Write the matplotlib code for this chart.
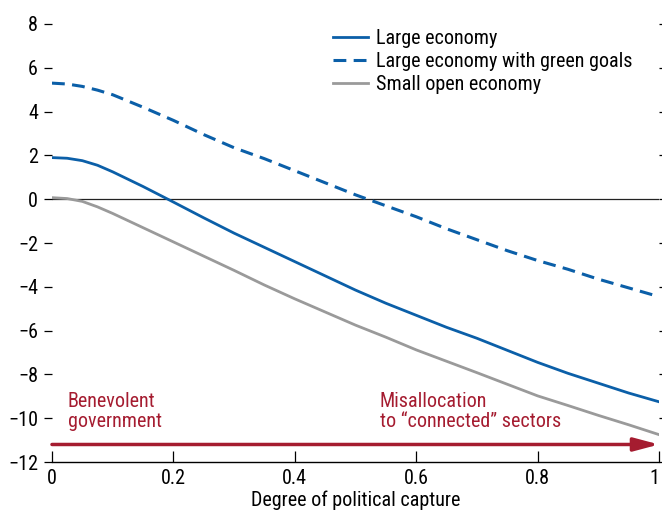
import matplotlib
matplotlib.use("Agg")
import matplotlib.pyplot as plt

plt.rcParams["font.family"] = ["Liberation Sans Narrow", "Roboto Condensed",
                               "Liberation Sans", "DejaVu Sans"]

# degree of political capture
capture = [0.0, 0.025, 0.05, 0.075, 0.1, 0.15, 0.2, 0.25, 0.3, 0.35, 0.4, 0.45, 0.5,
           0.55, 0.6, 0.65, 0.7, 0.75, 0.8, 0.85, 0.9, 0.95, 1.0]

large = [1.9, 1.87, 1.76, 1.55, 1.25, 0.58, -0.13, -0.85, -1.55, -2.2, -2.85, -3.5, -4.15,
         -4.75, -5.3, -5.85, -6.35, -6.9, -7.45, -7.95, -8.4, -8.85, -9.25]

large_green = [5.3, 5.26, 5.15, 4.98, 4.77, 4.2, 3.6, 2.95, 2.35, 1.85, 1.3, 0.75, 0.2,
               -0.3, -0.8, -1.35, -1.85, -2.35, -2.8, -3.2, -3.65, -4.05, -4.45]

small_open = [0.07, 0.03, -0.1, -0.35, -0.65, -1.3, -1.95, -2.6, -3.25, -3.92, -4.55, -5.15,
              -5.75, -6.3, -6.88, -7.4, -7.92, -8.45, -8.98, -9.42, -9.87, -10.3, -10.75]

xticks = [0, 0.2, 0.4, 0.6, 0.8, 1]
xtick_labels = ["0", "0.2", "0.4", "0.6", "0.8", "1"]
yticks = list(range(-12, 9, 2))

BLUE = "#0b5fa8"
GREY = "#9a9a9a"
RED = "#a51c30"
FS = 14.5

fig = plt.figure(figsize=(6.62, 5.15), dpi=100)
ax = fig.add_axes([0.0785, 0.1029, 0.917, 0.8505])

ax.axhline(0, color="#222222", lw=0.9, zorder=1)

ax.plot(capture, large, color=BLUE, lw=2.0, label="Large economy", zorder=3)
ax.plot(capture, large_green, color=BLUE, lw=2.2, ls=(0, (4.2, 2.4)),
        label="Large economy with green goals", zorder=3)
ax.plot(capture, small_open, color=GREY, lw=2.0, label="Small open economy", zorder=3)

# arrow along the bottom
ax.annotate("", xy=(1.0, -11.2), xytext=(0.0, -11.2),
            arrowprops=dict(arrowstyle="-|>,head_length=1.5,head_width=0.4",
                            color=RED, lw=2.5, shrinkA=0, shrinkB=0))
ax.text(0.026, -8.8, "Benevolent\ngovernment", color=RED, fontsize=FS,
        va="top", ha="left", linespacing=1.05)
ax.text(0.54, -8.8, "Misallocation\nto \u201cconnected\u201d sectors", color=RED,
        fontsize=FS, va="top", ha="left", linespacing=1.05)

ax.set_xlim(0, 1)
ax.set_ylim(-12, 8)
ax.set_xticks(xticks)
ax.set_xticklabels(xtick_labels)
ax.set_yticks(yticks)

for s in ["top", "left", "right"]:
    ax.spines[s].set_visible(False)
ax.spines["bottom"].set_linewidth(1.0)

ax.tick_params(axis="y", which="both", direction="out", length=6, width=0.9,
               labelsize=FS, pad=4, right=True, left=True)
ax.tick_params(axis="x", direction="in", length=8, width=0.9, labelsize=FS, pad=5)
for lbl in ax.get_xticklabels():
    if lbl.get_text() == "1":
        lbl.set_horizontalalignment("right")

ax.set_xlabel("Degree of political capture", fontsize=FS, labelpad=2)

leg = ax.legend(loc="upper left", bbox_to_anchor=(0.450, 1.008), frameon=False,
                fontsize=FS, handlelength=1.75, handletextpad=0.4,
                labelspacing=0.22, borderaxespad=0)

fig.savefig("out.png", dpi=100)
